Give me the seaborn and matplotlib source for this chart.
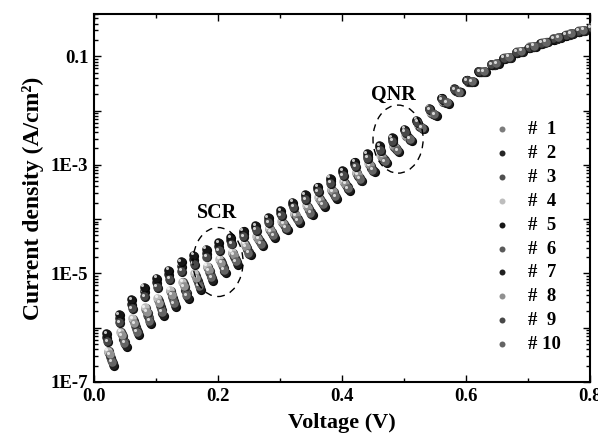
import numpy as np
import pandas as pd
import matplotlib
matplotlib.use("Agg")
import matplotlib.pyplot as plt
import seaborn as sns
from matplotlib.patches import Ellipse
from matplotlib import transforms
from matplotlib.ticker import LogLocator, FuncFormatter, MultipleLocator, NullFormatter
from matplotlib.colors import to_rgb

# ---------------- data (log10 of current density, A/cm^2) ----------------
voltage = [0.02, 0.04, 0.06, 0.08, 0.10, 0.12, 0.14, 0.16, 0.18, 0.20,
           0.22, 0.24, 0.26, 0.28, 0.30, 0.32, 0.34, 0.36, 0.38, 0.40,
           0.42, 0.44, 0.46, 0.48, 0.50, 0.52, 0.54, 0.56, 0.58, 0.60,
           0.62, 0.64, 0.66, 0.68, 0.70, 0.72, 0.74, 0.76, 0.78, 0.80]

labels = ["#  1", "#  2", "#  3", "#  4", "#  5", "#  6", "#  7", "#  8", "#  9", "# 10"]

# small voltage shift of each sample's sweep points (V)
v_shift = [0.003, 0.0, 0.006, 0.002, 0.0, 0.008, 0.011, 0.005, 0.001, 0.009]

logJ_1 = [-6.45, -6.10, -5.86, -5.65, -5.49, -5.33, -5.18, -5.03, -4.89, -4.75,
          -4.62, -4.47, -4.33, -4.19, -4.05, -3.90, -3.76, -3.62, -3.46, -3.32,
          -3.15, -2.99, -2.83, -2.65, -2.46, -2.27, -2.03, -1.82, -1.63, -1.45,
          -1.28, -1.14, -1.02, -0.91, -0.82, -0.74, -0.66, -0.59, -0.52, -0.46]
logJ_2 = [-6.17, -5.82, -5.56, -5.33, -5.16, -5.01, -4.86, -4.73, -4.62, -4.50,
          -4.39, -4.26, -4.15, -4.01, -3.88, -3.72, -3.58, -3.44, -3.28, -3.14,
          -2.98, -2.83, -2.68, -2.52, -2.36, -2.19, -1.97, -1.77, -1.60, -1.43,
          -1.28, -1.15, -1.04, -0.93, -0.84, -0.76, -0.68, -0.61, -0.54, -0.48]
logJ_3 = [-6.54, -6.19, -5.97, -5.76, -5.60, -5.44, -5.29, -5.13, -4.98, -4.84,
          -4.70, -4.54, -4.39, -4.24, -4.11, -3.96, -3.82, -3.67, -3.52, -3.37,
          -3.21, -3.04, -2.88, -2.69, -2.49, -2.29, -2.05, -1.84, -1.64, -1.45,
          -1.28, -1.14, -1.02, -0.91, -0.82, -0.74, -0.66, -0.59, -0.52, -0.46]
logJ_4 = [-6.42, -6.07, -5.83, -5.62, -5.45, -5.30, -5.15, -5.00, -4.86, -4.73,
          -4.60, -4.45, -4.31, -4.17, -4.03, -3.88, -3.74, -3.60, -3.44, -3.30,
          -3.13, -2.97, -2.81, -2.63, -2.45, -2.26, -2.02, -1.82, -1.62, -1.45,
          -1.28, -1.14, -1.02, -0.91, -0.82, -0.74, -0.66, -0.59, -0.52, -0.46]
logJ_5 = [-6.10, -5.75, -5.48, -5.25, -5.08, -4.93, -4.78, -4.66, -4.55, -4.43,
          -4.33, -4.21, -4.11, -3.97, -3.84, -3.68, -3.54, -3.40, -3.24, -3.10,
          -2.94, -2.79, -2.64, -2.49, -2.34, -2.17, -1.95, -1.76, -1.59, -1.43,
          -1.28, -1.15, -1.04, -0.93, -0.84, -0.76, -0.68, -0.61, -0.54, -0.48]
logJ_6 = [-6.59, -6.24, -6.02, -5.81, -5.65, -5.49, -5.34, -5.18, -5.03, -4.88,
          -4.74, -4.58, -4.42, -4.27, -4.13, -3.99, -3.85, -3.70, -3.55, -3.40,
          -3.23, -3.07, -2.90, -2.71, -2.51, -2.30, -2.06, -1.84, -1.64, -1.46,
          -1.28, -1.13, -1.02, -0.91, -0.81, -0.73, -0.65, -0.58, -0.51, -0.45]
logJ_7 = [-6.68, -6.33, -6.12, -5.92, -5.76, -5.60, -5.45, -5.28, -5.12, -4.97,
          -4.82, -4.65, -4.48, -4.33, -4.19, -4.05, -3.91, -3.76, -3.61, -3.46,
          -3.29, -3.12, -2.95, -2.75, -2.54, -2.33, -2.08, -1.86, -1.65, -1.46,
          -1.28, -1.13, -1.01, -0.90, -0.81, -0.73, -0.65, -0.58, -0.51, -0.45]
logJ_8 = [-6.49, -6.14, -5.92, -5.71, -5.54, -5.39, -5.24, -5.08, -4.94, -4.80,
          -4.66, -4.51, -4.36, -4.22, -4.08, -3.93, -3.79, -3.65, -3.49, -3.35,
          -3.18, -3.01, -2.85, -2.67, -2.48, -2.28, -2.04, -1.83, -1.63, -1.45,
          -1.28, -1.14, -1.02, -0.91, -0.82, -0.74, -0.66, -0.59, -0.52, -0.46]
logJ_9 = [-6.25, -5.90, -5.64, -5.42, -5.25, -5.10, -4.95, -4.82, -4.69, -4.57,
          -4.45, -4.32, -4.20, -4.06, -3.93, -3.77, -3.63, -3.49, -3.33, -3.19,
          -3.03, -2.87, -2.72, -2.56, -2.39, -2.21, -1.98, -1.79, -1.61, -1.44,
          -1.28, -1.15, -1.03, -0.92, -0.83, -0.75, -0.67, -0.60, -0.53, -0.47]
logJ_10 = [-6.63, -6.28, -6.07, -5.87, -5.71, -5.55, -5.40, -5.23, -5.07, -4.93,
           -4.78, -4.62, -4.45, -4.30, -4.16, -4.02, -3.88, -3.73, -3.58, -3.43,
           -3.26, -3.09, -2.93, -2.73, -2.52, -2.32, -2.07, -1.85, -1.65, -1.46,
           -1.28, -1.13, -1.01, -0.90, -0.81, -0.73, -0.65, -0.58, -0.51, -0.45]

all_logJ = [logJ_1, logJ_2, logJ_3, logJ_4, logJ_5, logJ_6, logJ_7, logJ_8, logJ_9, logJ_10]

colors = ["#7c7c7c", "#262626", "#505050", "#bdbdbd", "#161616",
          "#5a5a5a", "#202020", "#909090", "#484848", "#646464"]

frames = []
for lab, lj, dv in zip(labels, all_logJ, v_shift):
    frames.append(pd.DataFrame({"V": np.array(voltage) + dv,
                                "J": 10.0 ** np.array(lj),
                                "sample": lab}))
df = pd.concat(frames, ignore_index=True)

# ---------------- style ----------------
sns.set_theme(style="ticks")
plt.rcParams["font.family"] = ["Liberation Serif", "DejaVu Serif"]
plt.rcParams["font.weight"] = "bold"
plt.rcParams["axes.labelweight"] = "bold"
for key in ["text.color", "axes.labelcolor", "xtick.color", "ytick.color",
            "axes.edgecolor"]:
    plt.rcParams[key] = "black"

fig = plt.figure(figsize=(5.98, 4.36), dpi=100)
ax = fig.add_axes([94 / 598, 1 - 382 / 436, 496 / 598, 368 / 436])

shadow_tr = transforms.offset_copy(ax.transData, fig=fig, x=0.9, y=-0.9, units="dots")
light_tr = transforms.offset_copy(ax.transData, fig=fig, x=-1.5, y=1.5, units="dots")

for lab, c in zip(labels, colors):
    sub = df[df["sample"] == lab]
    rgb = np.array(to_rgb(c))
    dark = rgb * 0.3
    light = 1 - (1 - rgb) * 0.25
    # shaded underside of each ball
    ax.scatter(sub["V"], sub["J"], s=44, color=dark, linewidths=0,
               transform=shadow_tr, zorder=3)
    # ball body
    sns.scatterplot(x=sub["V"], y=sub["J"], color=c, s=38, linewidth=0,
                    ax=ax, label=lab, zorder=3)
    # specular highlight
    ax.scatter(sub["V"], sub["J"], s=5, color=light, linewidths=0,
               transform=light_tr, zorder=3)

ax.set_yscale("log")
ax.set_xlim(0, 0.8)
ax.set_ylim(1e-7, 0.6)

ax.xaxis.set_major_locator(MultipleLocator(0.2))
ax.xaxis.set_minor_locator(MultipleLocator(0.1))
ax.xaxis.set_major_formatter(FuncFormatter(lambda v, p: f"{v:.1f}"))

ylabels = {-7: "1E-7", -5: "1E-5", -3: "1E-3", -1: "0.1"}
ax.yaxis.set_major_locator(LogLocator(base=10, numticks=20))
ax.yaxis.set_minor_locator(LogLocator(base=10, subs=np.arange(2, 10), numticks=20))
ax.yaxis.set_minor_formatter(NullFormatter())
ax.yaxis.set_major_formatter(FuncFormatter(
    lambda v, p: ylabels.get(int(round(np.log10(v))), "") if v > 0 else ""))

ax.tick_params(which="both", direction="in", top=True, right=True, width=1.0,
               colors="black", labelcolor="black")
ax.tick_params(which="major", length=5, labelsize=13.5, pad=4)
ax.tick_params(which="minor", length=3)
for t in ax.get_xticklabels() + ax.get_yticklabels():
    t.set_fontweight("bold")
for s in ax.spines.values():
    s.set_linewidth(1.5)
    s.set_color("black")

ax.set_xlabel("Voltage (V)", fontsize=16, fontweight="bold", labelpad=6, color="black")
ax.set_ylabel("Current density (A/cm²)", fontsize=17, fontweight="bold", labelpad=5,
              color="black")

# annotations
ax.add_patch(Ellipse((0.25, 0.326), 0.101, 0.1875, transform=ax.transAxes,
                     fill=False, ls=(0, (5, 4)), lw=1.0, color="black", zorder=4))
ax.add_patch(Ellipse((0.613, 0.660), 0.101, 0.185, transform=ax.transAxes,
                     fill=False, ls=(0, (5, 4)), lw=1.0, color="black", zorder=4))
ax.text(0.248, 0.459, "SCR", transform=ax.transAxes, ha="center", va="center",
        fontsize=14.5, fontweight="bold", color="black")
ax.text(0.603, 0.78, "QNR", transform=ax.transAxes, ha="center", va="center",
        fontsize=14.5, fontweight="bold", color="black")

handles, labs = ax.get_legend_handles_labels()
ax.legend(handles, labs, loc="upper left", bbox_to_anchor=(0.77, 0.755),
          frameon=False, markerscale=0.7, handlelength=1.0, handletextpad=0.9,
          labelspacing=0.36, prop={"weight": "bold", "size": 13.5},
          labelcolor="black")

fig.savefig("out.png", dpi=100)
